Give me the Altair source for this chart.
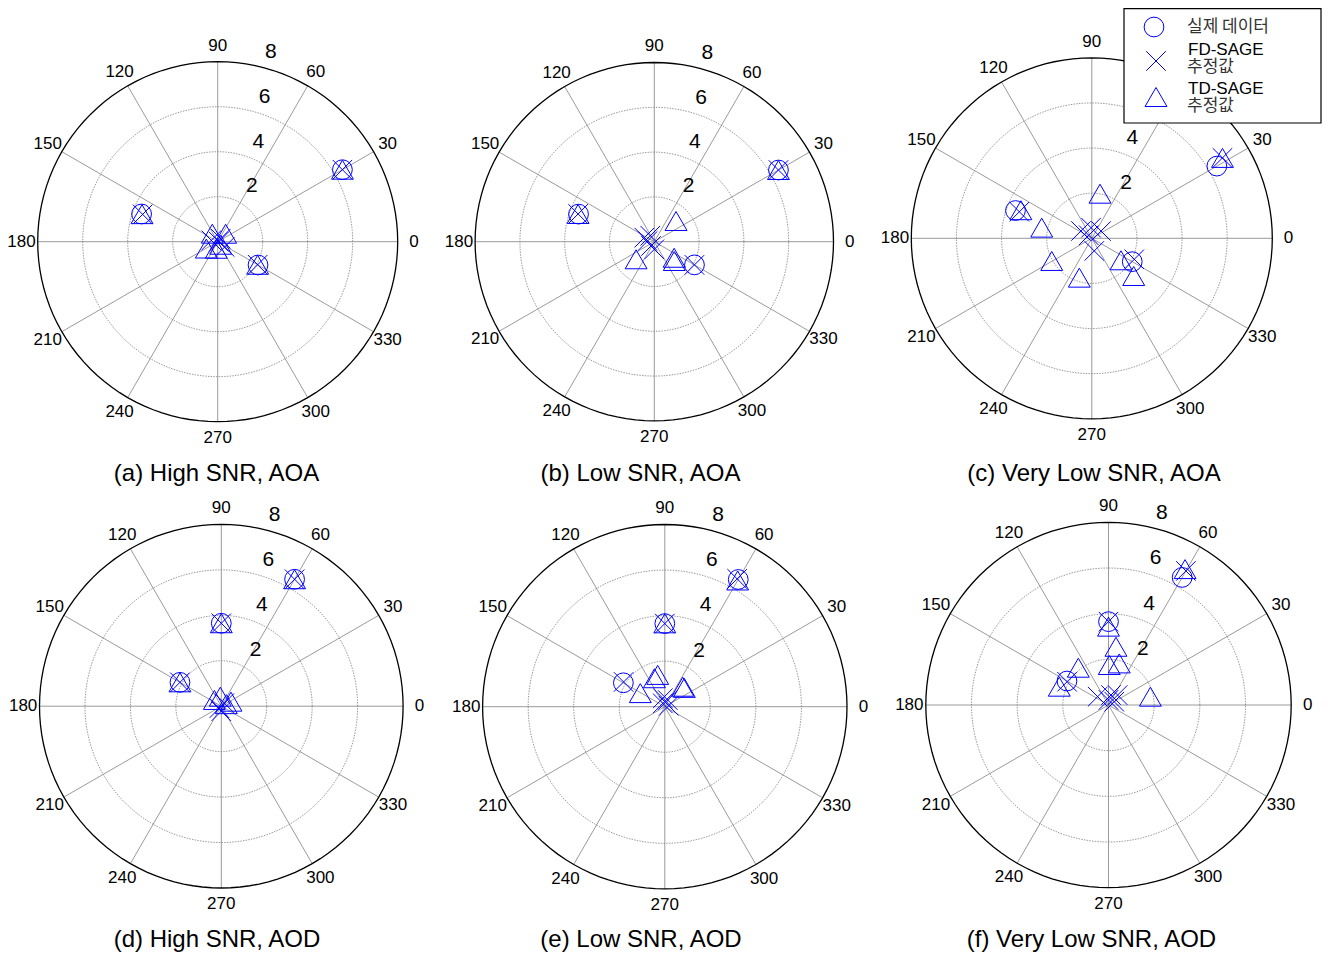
import altair as alt
import pandas as pd
import numpy as np

BLUE = "#0000FF"
FONT = "Liberation Sans"

# ---------------- data (angle in degrees, magnitude) ----------------
true_aoa_ang = [30, 160, 330]
true_aoa_mag = [6.4, 3.6, 2.07]
true_aod_ang = [60, 90, 150]
true_aod_mag = [6.45, 3.65, 2.1]

fd_a_ang = [30, 160, 330, 323, 168, 0, 45]
fd_a_mag = [6.4, 3.55, 2.05, 0.39, 0.29, 0.05, 0.19]
td_a_ang = [30, 160, 330, 124, 45, 211, 259, 315]
td_a_mag = [6.4, 3.58, 2.05, 0.43, 0.50, 0.59, 0.32, 0.19]

fd_b_ang = [30, 160, 330, 158, 174, 233, 270, 124]
fd_b_mag = [6.4, 3.62, 2.07, 0.48, 0.30, 0.24, 0.34, 0.32]
td_b_ang = [30, 160, 43.6, 321, 316, 224]
td_b_mag = [6.4, 3.62, 1.34, 1.14, 1.24, 1.13]

fd_c_ang = [31.6, 159.9, 333.7, 146, 94, 38, 281, 135]
fd_c_mag = [6.8, 3.42, 2.1, 0.58, 0.47, 0.52, 0.57, 0.19]
td_c_ang = [31.6, 158.4, 168, 209.5, 252.4, 79.6, 323, 318]
td_c_mag = [6.8, 3.38, 2.27, 2.04, 1.83, 2.01, 1.62, 2.5]

fd_d_ang = [60, 90, 150, 225, 45, 270]
fd_d_mag = [6.45, 3.65, 2.1, 0.12, 0.19, 0.22]
td_d_ang = [60, 90, 150, 138, 96, 25, 22]
td_d_mag = [6.45, 3.65, 2.1, 0.41, 0.42, 0.47, 0.24]

fd_e_ang = [60.5, 90, 149, 103, 66, 121, 14]
fd_e_mag = [6.45, 3.65, 2.11, 0.38, 0.32, 0.17, 0.18]
td_e_ang = [60, 90, 151, 102.6, 110, 48, 44]
td_e_mag = [6.4, 3.66, 1.23, 1.43, 1.33, 1.18, 1.19]

fd_f_ang = [60, 90, 150.7, 142.5, 76, 47.4, 29.6, 90]
fd_f_mag = [6.78, 3.65, 2.08, 0.60, 0.45, 0.59, 0.29, 0.22]
td_f_ang = [60.6, 90, 82.7, 88.9, 75.5, 129, 159.6, 11.2]
td_f_mag = [6.83, 3.43, 2.57, 1.75, 1.88, 2.1, 2.3, 1.87]

captions = ["(a) High SNR, AOA", "(b) Low SNR, AOA", "(c) Very Low SNR, AOA",
            "(d) High SNR, AOD", "(e) Low SNR, AOD", "(f) Very Low SNR, AOD"]

ring_values = [2, 4, 6]
outer_ring = 8
spoke_angles = [0, 30, 60, 90, 120, 150]
angle_labels = [0, 30, 60, 90, 120, 150, 180, 210, 240, 270, 300, 330]
radial_labels = [2, 4, 6, 8]

legend_labels = ["실제  데이터", "FD-SAGE", "추정값", "TD-SAGE", "추정값"]

# ---------------- layout ----------------
W, H = 436, 465
LABEL_R = 8.72
# center offset x, center offset y (px inside panel), outer radius px
GEOM = {
    "a": (208.7, 233.7, 180.0),
    "b": (209.3, 233.7, 179.2),
    "c": (210.8, 230.3, 180.5),
    "d": (212.3, 233.2, 181.8),
    "e": (219.8, 233.7, 182.2),
    "f": (227.5, 232.0, 182.7),
}
CAP_POS = {"a": (207.5, 466), "b": (195.5, 466), "c": (213, 466),
           "d": (208, 467), "e": (196, 467), "f": (210.5, 467)}

CALC = dict(x="datum.mag*cos(datum.ang*PI/180)", y="datum.mag*sin(datum.ang*PI/180)")

ring_pts = np.arange(0, 361, 3)
ring_df = pd.DataFrame([{"ring": r, "idx": i, "ang": float(a), "mag": r}
                        for r in ring_values for i, a in enumerate(ring_pts)])
outer_df = pd.DataFrame([{"idx": i, "ang": float(a), "mag": outer_ring}
                         for i, a in enumerate(ring_pts)])
spoke_df = pd.DataFrame({"ang": spoke_angles})
alab_df = pd.DataFrame({"ang": angle_labels, "lab": [str(a) for a in angle_labels]})
rlab_df = pd.DataFrame({"v": radial_labels, "lab": [str(v) for v in radial_labels]})


def panel(key, fd_ang, fd_mag, td_ang, td_mag, tr_ang, tr_mag, caption, legend=False):
    ox, oy, R = GEOM[key]
    k = R / outer_ring
    xsc = alt.Scale(domain=[-ox / k, (W - ox) / k], nice=False, zero=False)
    ysc = alt.Scale(domain=[-(H - oy) / k, oy / k], nice=False, zero=False)
    X = alt.X("x:Q", scale=xsc, axis=None)
    Y = alt.Y("y:Q", scale=ysc, axis=None)

    rings = alt.Chart(ring_df).transform_calculate(**CALC).mark_line(
        color="#808080", strokeWidth=0.8, strokeDash=[1.5, 1.2]
    ).encode(x=X, y=Y, detail="ring:N", order="idx:Q")

    outer = alt.Chart(outer_df).transform_calculate(**CALC).mark_line(
        color="black", strokeWidth=1.3
    ).encode(x=X, y=Y, order="idx:Q")

    spokes = alt.Chart(spoke_df).transform_calculate(
        x=f"{outer_ring}*cos(datum.ang*PI/180)", y=f"{outer_ring}*sin(datum.ang*PI/180)",
        x2=f"-{outer_ring}*cos(datum.ang*PI/180)", y2=f"-{outer_ring}*sin(datum.ang*PI/180)"
    ).mark_rule(color="#808080", strokeWidth=0.8).encode(x=X, y=Y, x2="x2:Q", y2="y2:Q")

    alabs = alt.Chart(alab_df).transform_calculate(
        x=f"{LABEL_R}*cos(datum.ang*PI/180)", y=f"{LABEL_R}*sin(datum.ang*PI/180)"
    ).mark_text(font=FONT, fontSize=17, color="black", align="center", baseline="middle").encode(
        x=X, y=Y, text="lab:N")

    rlabs = alt.Chart(rlab_df).transform_calculate(
        x="datum.v*cos(82*PI/180)", y="datum.v*sin(82*PI/180)"
    ).mark_text(font=FONT, fontSize=21, color="black", align="center", baseline="middle",
                dx=28, dy=-11).encode(x=X, y=Y, text="lab:N")

    def pts(ang, mag, shape, size):
        df = pd.DataFrame({"ang": ang, "mag": mag})
        return alt.Chart(df).transform_calculate(**CALC).mark_point(
            shape=shape, size=size, filled=False, color=BLUE, strokeWidth=1, opacity=1
        ).encode(x=X, y=Y)

    XSHAPE = "M-1,-1L1,1M-1,1L1,-1"
    p_true = pts(tr_ang, tr_mag, "circle", 390)
    p_fd = pts(fd_ang, fd_mag, XSHAPE, 380)
    p_td = pts(td_ang, td_mag, "triangle-up", 480)

    cx, cy = CAP_POS[key]
    cap = alt.Chart(pd.DataFrame({"t": [caption]})).mark_text(
        font=FONT, fontSize=24, color="black", align="center", baseline="middle"
    ).encode(x=alt.value(cx), y=alt.value(cy), text="t:N")

    layers = [rings, spokes, outer, alabs, rlabs, p_true, p_fd, p_td, cap]

    if legend:
        one = pd.DataFrame({"t": [0]})
        box = alt.Chart(one).mark_rect(fill="white", stroke="black", strokeWidth=1.2).encode(
            x=alt.value(243), x2=alt.value(440), y=alt.value(0.6), y2=alt.value(115))
        lg_c = alt.Chart(one).mark_point(shape="circle", size=390, filled=False, color=BLUE,
                                         strokeWidth=1, opacity=1).encode(
            x=alt.value(273), y=alt.value(19))
        lg_x = alt.Chart(one).mark_point(shape=XSHAPE, size=380, filled=False, color=BLUE,
                                         strokeWidth=1, opacity=1).encode(
            x=alt.value(275), y=alt.value(53))
        lg_t = alt.Chart(one).mark_point(shape="triangle-up", size=480, filled=False, color=BLUE,
                                         strokeWidth=1, opacity=1).encode(
            x=alt.value(275), y=alt.value(89))
        lt_df = pd.DataFrame({"lab": legend_labels, "ty": [19, 42, 59, 81, 98],
                              "kor": [True, False, True, False, True]})
        lt_k = alt.Chart(lt_df).transform_filter("datum.kor").mark_text(
            font="Noto Sans CJK KR", fontSize=17, color="#333333", align="left", baseline="middle"
        ).encode(x=alt.value(306), y=alt.Y("ty:Q", scale=None), text="lab:N")
        lt_e = alt.Chart(lt_df).transform_filter("!datum.kor").mark_text(
            font=FONT, fontSize=17, color="black", align="left", baseline="middle"
        ).encode(x=alt.value(307), y=alt.Y("ty:Q", scale=None), text="lab:N")
        layers += [box, lg_c, lg_x, lg_t, lt_k, lt_e]

    return alt.layer(*layers).properties(width=W, height=H)


pa = panel("a", fd_a_ang, fd_a_mag, td_a_ang, td_a_mag, true_aoa_ang, true_aoa_mag, captions[0])
pb = panel("b", fd_b_ang, fd_b_mag, td_b_ang, td_b_mag, true_aoa_ang, true_aoa_mag, captions[1])
pc = panel("c", fd_c_ang, fd_c_mag, td_c_ang, td_c_mag, true_aoa_ang, true_aoa_mag, captions[2],
           legend=True)
pd_ = panel("d", fd_d_ang, fd_d_mag, td_d_ang, td_d_mag, true_aod_ang, true_aod_mag, captions[3])
pe = panel("e", fd_e_ang, fd_e_mag, td_e_ang, td_e_mag, true_aod_ang, true_aod_mag, captions[4])
pf = panel("f", fd_f_ang, fd_f_mag, td_f_ang, td_f_mag, true_aod_ang, true_aod_mag, captions[5])

chart = alt.concat(pa, pb, pc, pd_, pe, pf, columns=3, spacing=0, bounds="flush").properties(
    padding={"left": -1, "top": 0, "right": 0, "bottom": 0}
).configure(background="white").configure_view(stroke=None)

chart.save("out.html", embed_options={"renderer": "svg", "actions": False})
